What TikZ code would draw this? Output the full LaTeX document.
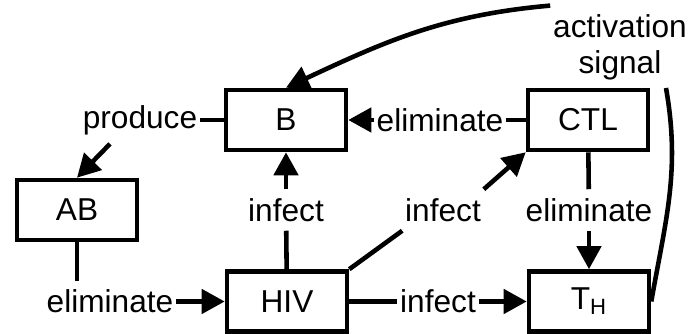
\documentclass[tikz,border=0pt]{standalone}
\usepackage{fontspec}
\setmainfont{Liberation Sans}
\usetikzlibrary{arrows.meta}
\tikzset{
	every picture/.append style={font=\fontsize{18}{20.5}\selectfont},
	mynode/.style = {rectangle, draw=black, line width=2.6pt, minimum width=2.4cm, minimum height=1.2cm, align=center},
	mylabel/.style = {inner xsep=1.5pt, inner ysep=5pt, align=center},
	myline/.style = {draw=black, line width=2.6pt},
	myedge/.style = {draw=black, line width=2.6pt, -{Triangle[length=0.46cm,width=0.48cm]}}
}
\begin{document}
\begin{tikzpicture}
				\useasboundingbox (0,0) rectangle (13.76,6.68);
				\node[mynode] at (5.72,4.28) (B) {B};
				\node[mynode] at (11.76,4.28) (CTL) {CTL};
				\node[mynode] at (1.54,2.48) (AB) {AB};
				\node[mynode] at (5.74,0.65) (HIV) {HIV};
				\node[mynode] at (11.78,0.65) (TH) {T\textsubscript{H}};
				\node[mylabel] at (2.8,4.28) (prod) {produce};
				\node[mylabel] at (8.8,4.28) (elimb) {eliminate};
				\node[mylabel] at (12.4,5.73) (act) {activation\\signal};
				\node[mylabel] at (5.72,2.48) (infb) {infect};
				\node[mylabel] at (8.86,2.48) (infc) {infect};
				\node[mylabel] at (11.78,2.48) (elimt) {eliminate};
				\node[mylabel] at (8.76,0.65) (inft) {infect};
				\node[mylabel] at (2.2,0.65) (elimh) {eliminate};
				\coordinate (sig) at (13.32,4.92);
				\path (B) edge [myline] (prod);
				\path ([xshift=-0.6cm]prod.south) edge [myedge] (AB.north);
				\path (CTL) edge [myline] (elimb);
				\path (elimb) edge [myedge] (B);
				\path (act.north west) edge [myedge, out=185, in=25] (B.north);
				\path (TH.east) edge [myline, out=80, in=-80] (sig);
				\path (HIV) edge [myline] (infb);
				\path (infb) edge [myedge] (B);
				\path (HIV.north east) edge [myline] (infc.south west);
				\path (infc.north east) edge [myedge] (CTL.south west);
				\path (CTL) edge [myline] (elimt);
				\path (elimt) edge [myedge] (TH);
				\path (HIV) edge [myline] (inft);
				\path (inft) edge [myedge] (TH);
				\path (AB.south) edge [myline] (AB.south |- elimh.north);
				\path (elimh) edge [myedge] (HIV);
			\end{tikzpicture}
\end{document}
